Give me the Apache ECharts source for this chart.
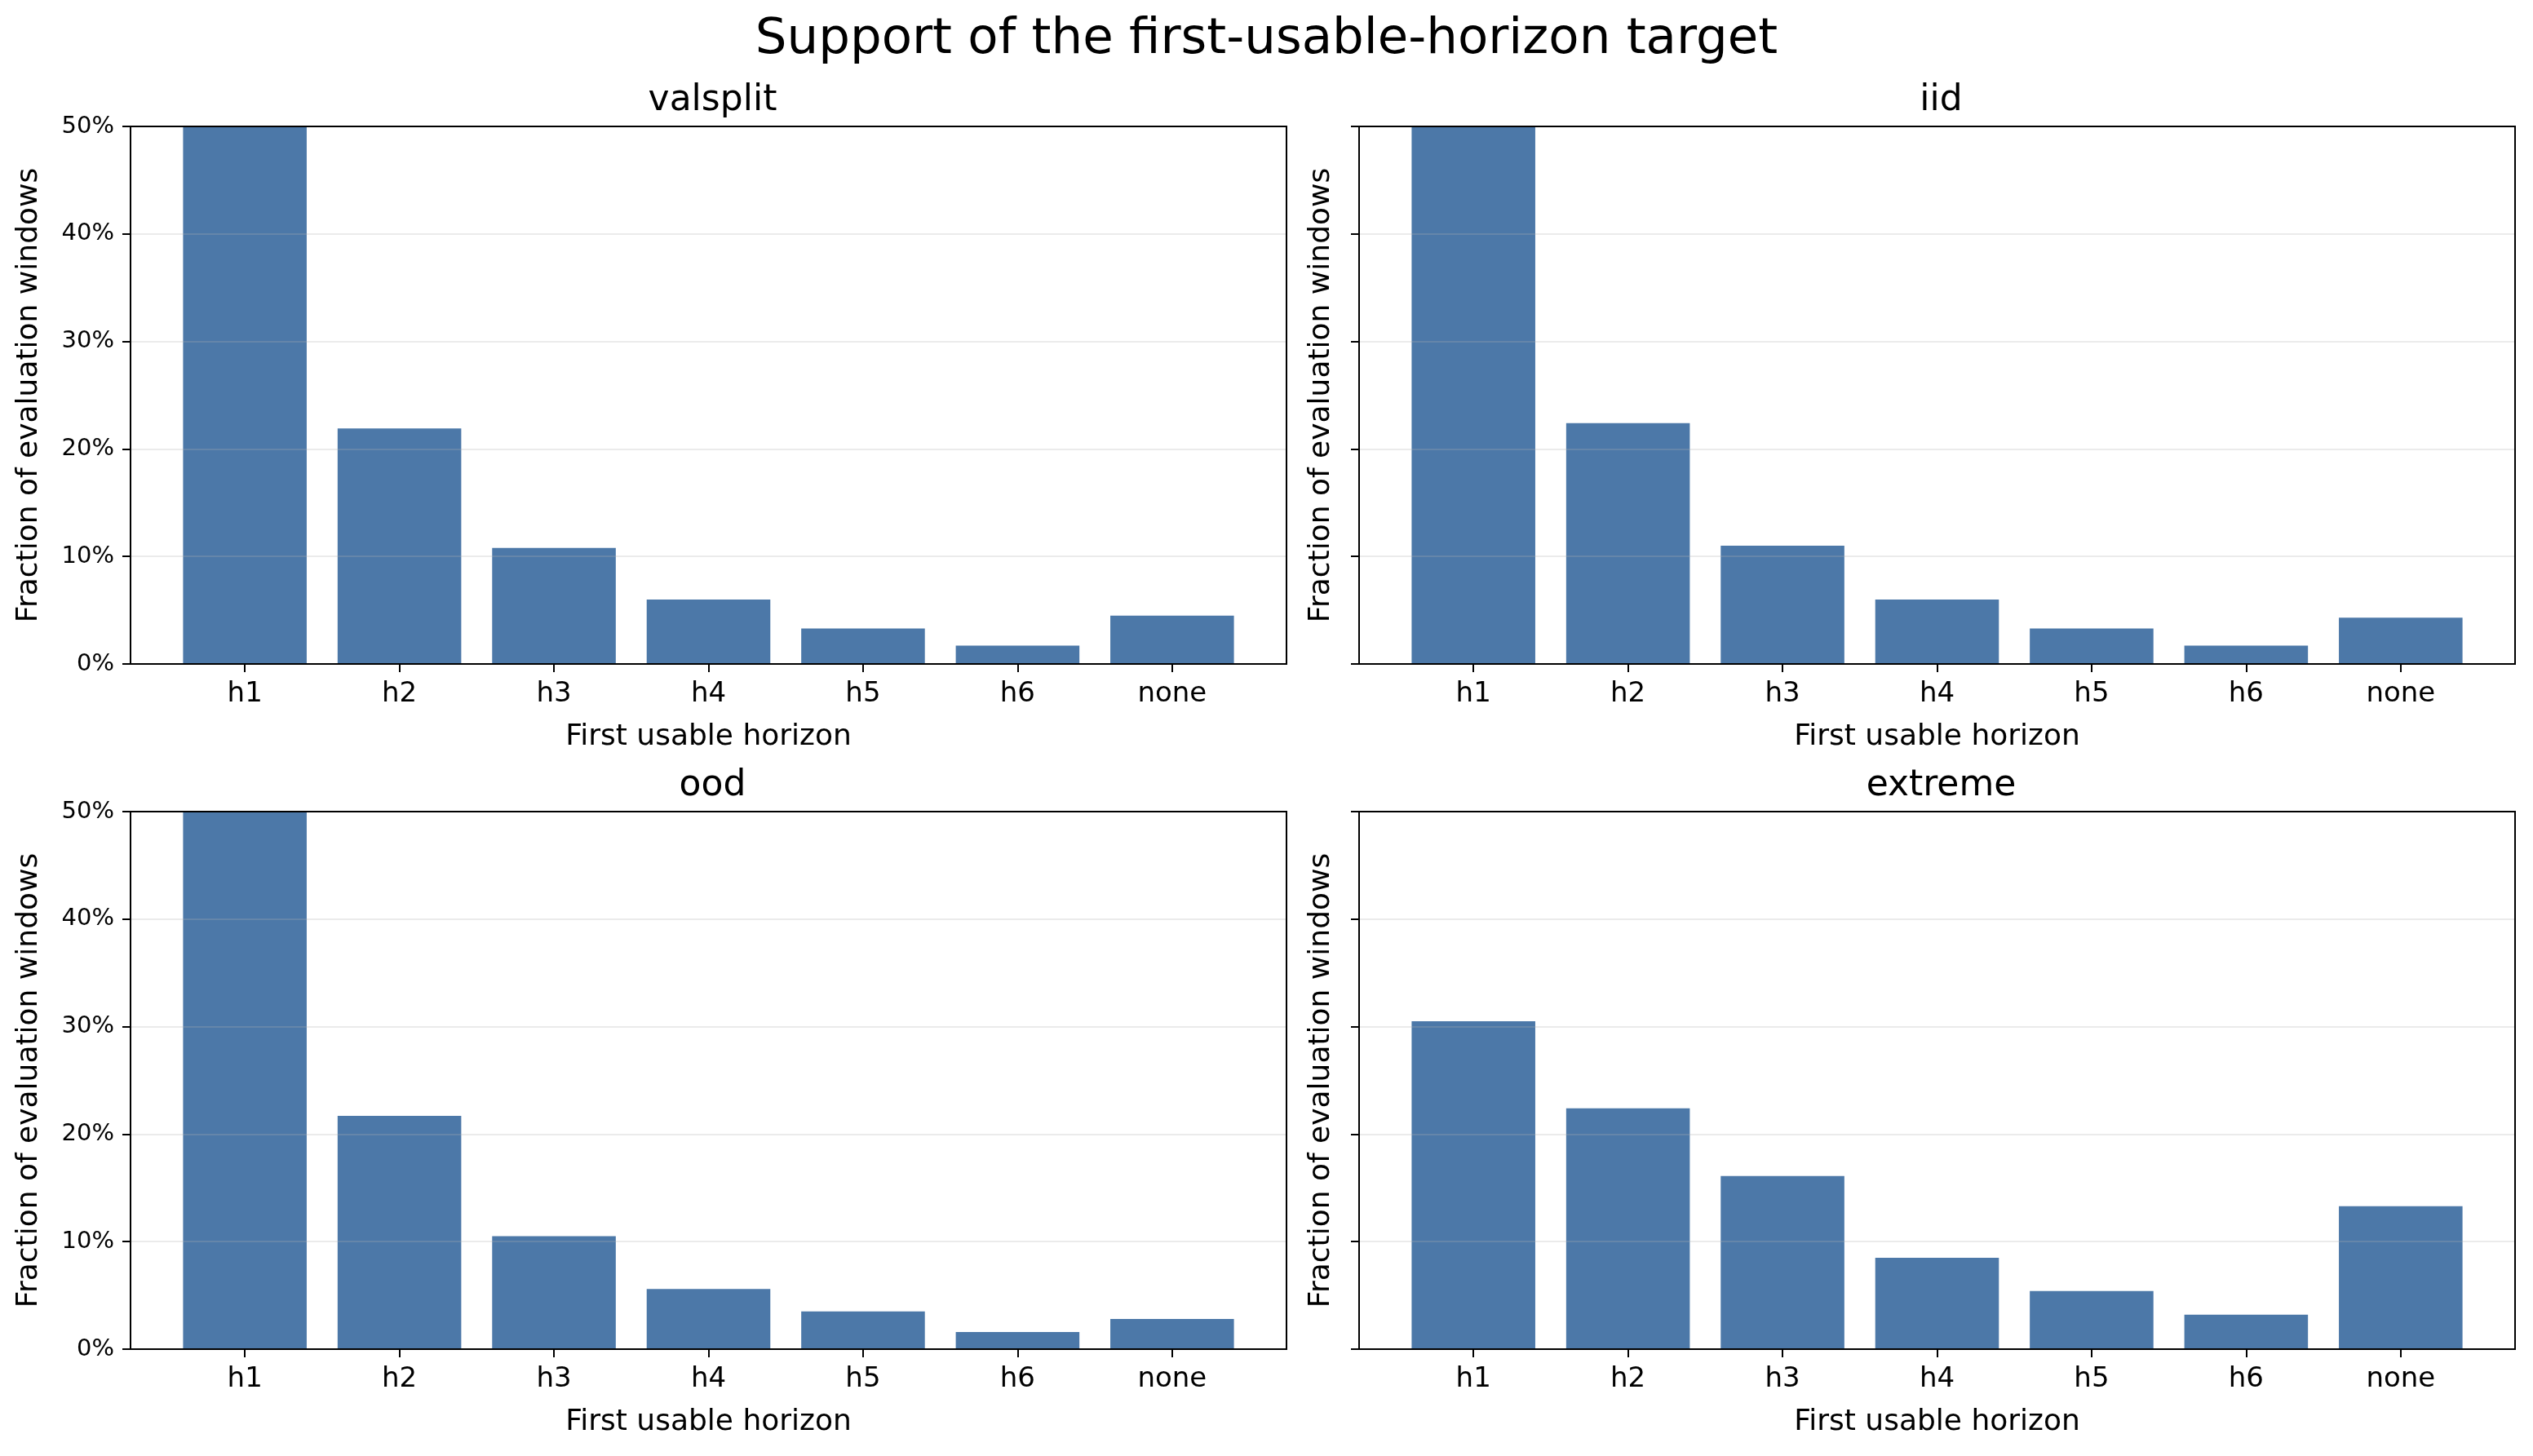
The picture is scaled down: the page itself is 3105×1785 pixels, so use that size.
<!DOCTYPE html>
<html>
<head>
<meta charset="utf-8">
<script src="https://cdn.jsdelivr.net/npm/echarts@6/dist/echarts.min.js"></script>
<style>
  html, body { margin: 0; padding: 0; background: #fff; }
  #main { width: 3105px; height: 1785px; }
</style>
</head>
<body>
<div id="main"></div>
<script>
// values, in percent
var categories = ['h1', 'h2', 'h3', 'h4', 'h5', 'h6', 'none'];
var panelNames = ['valsplit', 'iid', 'ood', 'extreme'];
var valsplit = [51.8, 21.9, 10.8, 6.0, 3.3, 1.7, 4.5];
var iid = [51.3, 22.4, 11.0, 6.0, 3.3, 1.7, 4.3];
var ood = [54.5, 21.7, 10.5, 5.6, 3.5, 1.6, 2.8];
var extreme = [30.5, 22.4, 16.1, 8.5, 5.4, 3.2, 13.3];
var panelData = [valsplit, iid, ood, extreme];

var chartDom = document.getElementById('main');
var myChart = echarts.init(chartDom);
var font = 'DejaVu Sans';
var barColor = '#4c78a8';

// grid boxes: left column / right column, top row / bottom row
var gridLefts = [160, 1666];
var gridTops = [155, 995];
var plotW = 1417;
var plotH = 659;
// x range like matplotlib: bars of width 0.8 plus 5% margin
var xMin = -0.74, xMax = categories.length - 1 + 0.74;
var barPx = 0.8 * plotW / (xMax - xMin);
var catIdx = categories.map(function (c, k) { return k; });

var grids = [], xAxes = [], yAxes = [], series = [];
var titles = [{
    text: 'Support of the first-usable-horizon target',
    left: 'center',
    top: 14,
    textStyle: { fontFamily: font, fontSize: 61, fontWeight: 'normal', color: '#000' }
}];

for (var i = 0; i < 4; i++) {
    var col = i % 2, row = Math.floor(i / 2);
    var gl = gridLefts[col], gt = gridTops[row];
    grids.push({
        left: gl, top: gt, width: plotW, height: plotH, z: 5,
        show: true, borderColor: '#000', borderWidth: 2, backgroundColor: 'transparent'
    });
    titles.push({
        text: panelNames[i],
        left: gl + plotW / 2,
        textAlign: 'center',
        top: gt - 58,
        textStyle: { fontFamily: font, fontSize: 44, fontWeight: 'normal', color: '#000' }
    });
    xAxes.push({
        type: 'value',
        gridIndex: i,
        min: xMin,
        max: xMax,
        name: 'First usable horizon',
        nameLocation: 'middle',
        nameGap: 72,
        nameTextStyle: { fontFamily: font, fontSize: 36, color: '#000' },
        axisLine: { show: true, onZero: false, lineStyle: { color: '#000', width: 2 } },
        axisTick: { show: true, length: 10, customValues: catIdx, lineStyle: { color: '#000', width: 2 } },
        axisLabel: {
            fontFamily: font, fontSize: 34, color: '#000', margin: 20,
            customValues: catIdx,
            formatter: function (v) { return categories[Math.round(v)]; }
        },
        splitLine: { show: false }
    });
    yAxes.push({
        type: 'value',
        gridIndex: i,
        min: 0,
        max: 50,
        interval: 10,
        z: 3,
        name: 'Fraction of evaluation windows',
        nameLocation: 'middle',
        nameGap: col === 0 ? 106 : 28,
        nameTextStyle: { fontFamily: font, fontSize: 36, color: '#000' },
        axisLine: { show: true, onZero: false, lineStyle: { color: '#000', width: 2 } },
        axisTick: { show: true, length: 10, lineStyle: { color: '#000', width: 2 } },
        axisLabel: {
            show: col === 0,
            fontFamily: font, fontSize: 29, color: '#000', margin: 20,
            formatter: '{value}%'
        },
        splitLine: {
            show: true, showMinLine: false, showMaxLine: false,
            lineStyle: { color: 'rgba(176,176,176,0.25)', width: 2 }
        }
    });
    series.push({
        type: 'bar',
        xAxisIndex: i,
        yAxisIndex: i,
        data: panelData[i].map(function (v, k) { return [k, v]; }),
        barWidth: barPx,
        clip: true,
        itemStyle: { color: barColor },
        silent: true
    });
}

var option = {
    backgroundColor: '#fff',
    animation: false,
    title: titles,
    grid: grids,
    xAxis: xAxes,
    yAxis: yAxes,
    series: series
};

option && myChart.setOption(option);
</script>
</body>
</html>
